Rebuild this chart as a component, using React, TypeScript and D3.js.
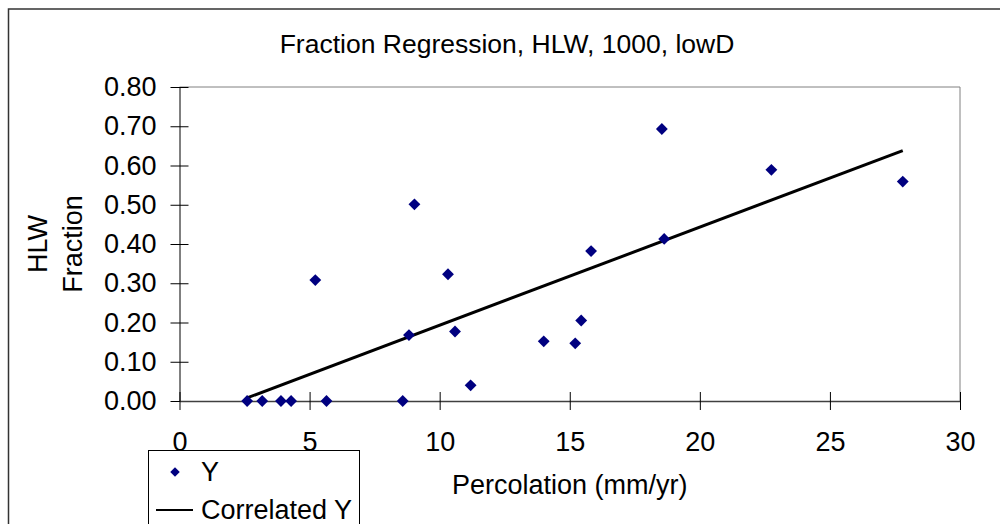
import React, { useEffect, useRef } from 'react';
import * as d3 from 'd3';

// Percolation (mm/yr) vs HLW fraction
const percolation = [2.6, 3.18, 3.9, 4.29, 5.65, 8.58, 5.22, 10.32, 8.82, 10.59, 11.19, 9.03, 14.0, 15.21, 15.44, 15.82, 18.54, 18.63, 22.75, 27.8];
const hlwFraction = [0, 0, 0, 0, 0, 0, 0.308, 0.323, 0.168, 0.177, 0.04, 0.501, 0.152, 0.147, 0.205, 0.382, 0.693, 0.413, 0.589, 0.559];

// fitted line ends ("Correlated Y")
const fitX = [2.6, 27.8];
const fitY = [0.008, 0.638];

const xTicks = [0, 5, 10, 15, 20, 25, 30];
const yTicks = [0, 0.1, 0.2, 0.3, 0.4, 0.5, 0.6, 0.7, 0.8];

const FONT = '"Liberation Sans", Arial, sans-serif';

const App = () => {
  const ref = useRef<SVGSVGElement | null>(null);

  useEffect(() => {
    const svg = d3.select(ref.current);
    svg.selectAll('*').remove();

    const left = 179.5, right = 960, top = 87, bottom = 401;

    const x = d3.scaleLinear().domain([0, 30]).range([left, right]);
    const y = d3.scaleLinear().domain([0, 0.8]).range([bottom, top]);

    // outer frame (runs off the right and bottom edges)
    svg.append('rect')
      .attr('x', 8.5).attr('y', 9)
      .attr('width', 1100).attr('height', 600)
      .attr('fill', 'white')
      .attr('stroke', '#333').attr('stroke-width', 1.5);

    // plot area border, top and right
    svg.append('path')
      .attr('d', `M${left},${top}H${right}V${bottom}`)
      .attr('fill', 'none')
      .attr('stroke', '#808080')
      .attr('stroke-width', 1);

    // title
    svg.append('text')
      .attr('x', 507).attr('y', 53)
      .attr('text-anchor', 'middle')
      .style('font-family', FONT).style('font-size', '26.5px')
      .text('Fraction Regression, HLW, 1000, lowD');

    // y axis
    const yAxis = svg.append('g')
      .attr('transform', `translate(${left},0)`)
      .call(d3.axisLeft(y).tickValues(yTicks).tickFormat(d3.format('.2f')).tickSizeInner(9).tickSizeOuter(0).tickPadding(14));
    yAxis.select('.domain').attr('stroke', '#000');
    yAxis.selectAll('.tick line').attr('x1', 9).attr('x2', -9).attr('stroke', '#000');
    yAxis.selectAll('text').style('font-family', FONT).style('font-size', '27px').attr('fill', '#000');

    // x axis
    const xAxis = svg.append('g')
      .attr('transform', `translate(0,${bottom})`)
      .call(d3.axisBottom(x).tickValues(xTicks).tickFormat(d3.format('d')).tickSizeInner(9).tickSizeOuter(0).tickPadding(22));
    xAxis.select('.domain').attr('stroke', '#404040').attr('stroke-width', 1.5);
    xAxis.selectAll('.tick line').attr('y1', -9).attr('y2', 9).attr('stroke', '#000');
    xAxis.selectAll('text').style('font-family', FONT).style('font-size', '27px').attr('fill', '#000');

    // axis titles
    svg.append('text')
      .attr('x', (left + right) / 2).attr('y', 494)
      .attr('text-anchor', 'middle')
      .style('font-family', FONT).style('font-size', '27px')
      .text('Percolation (mm/yr)');

    const yt = svg.append('text')
      .attr('transform', `translate(47,${(top + bottom) / 2}) rotate(-90)`)
      .attr('text-anchor', 'middle')
      .style('font-family', FONT).style('font-size', '27px');
    yt.append('tspan').attr('x', 0).attr('dy', 0).text('HLW');
    yt.append('tspan').attr('x', 0).attr('dy', 35).text('Fraction');

    // regression line
    const line = d3.line<number>()
      .x((d, i) => x(fitX[i]))
      .y((d) => y(d));
    svg.append('path')
      .datum(fitY)
      .attr('d', line)
      .attr('fill', 'none')
      .attr('stroke', '#000')
      .attr('stroke-width', 3);

    // points
    const diamond = d3.symbol().type(d3.symbolSquare).size(70);
    svg.selectAll('.dot')
      .data(percolation)
      .enter().append('path')
      .attr('class', 'dot')
      .attr('d', diamond)
      .attr('transform', (d, i) => `translate(${x(d)},${y(hlwFraction[i])}) rotate(45)`)
      .attr('fill', '#000080');

    // legend
    const lg = svg.append('g');
    lg.append('rect')
      .attr('x', 148.5).attr('y', 450.5)
      .attr('width', 211).attr('height', 100)
      .attr('fill', 'white')
      .attr('stroke', '#000').attr('stroke-width', 1);
    lg.append('path')
      .attr('d', d3.symbol().type(d3.symbolSquare).size(45)())
      .attr('transform', 'translate(175,472) rotate(45)')
      .attr('fill', '#000080');
    lg.append('text')
      .attr('x', 201).attr('y', 481)
      .style('font-family', FONT).style('font-size', '27px')
      .text('Y');
    lg.append('line')
      .attr('x1', 156).attr('x2', 193)
      .attr('y1', 510).attr('y2', 510)
      .attr('stroke', '#000').attr('stroke-width', 2);
    lg.append('text')
      .attr('x', 201).attr('y', 519)
      .style('font-family', FONT).style('font-size', '27px')
      .text('Correlated Y');

    return () => {
      d3.select(ref.current).selectAll('*').remove();
    };
  }, []);

  return (
    <svg
      ref={ref}
      width={1000}
      height={524}
      style={{ position: 'absolute', left: 0, top: 0, background: 'white' }}
    />
  );
};

export default App;
